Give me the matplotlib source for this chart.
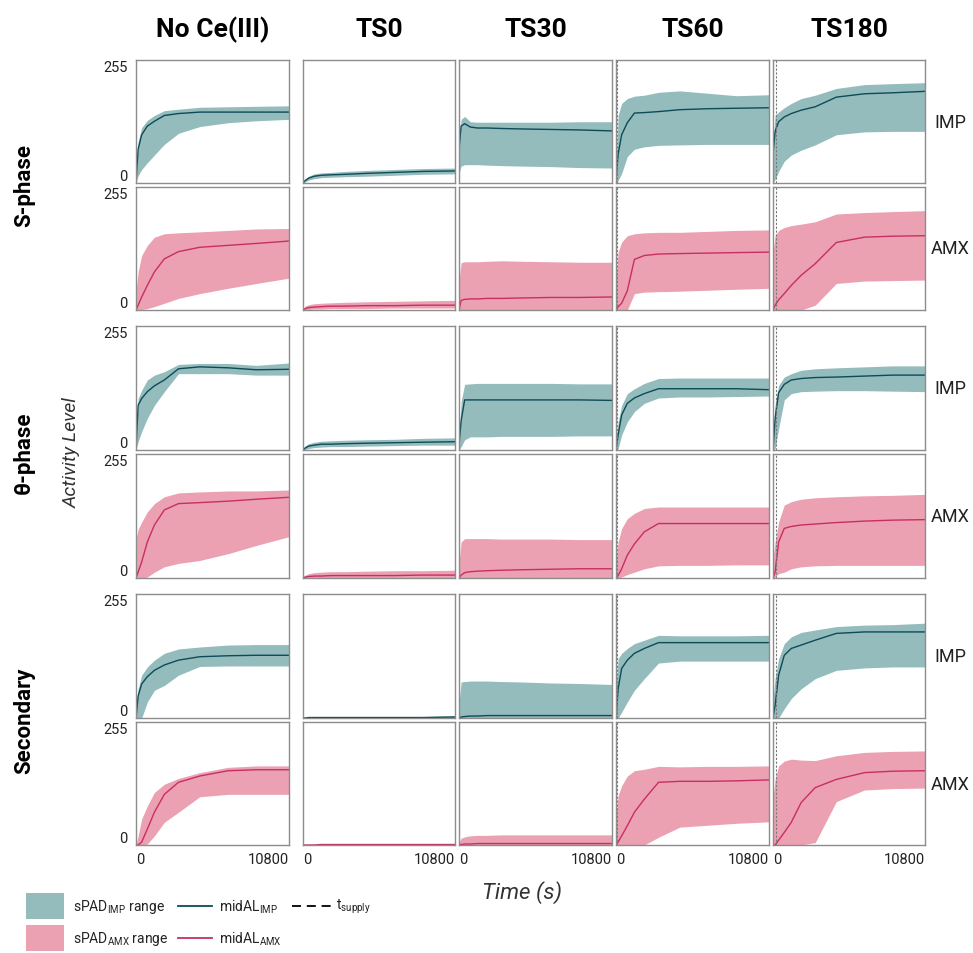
import matplotlib.pyplot as plt
from matplotlib.patches import Rectangle
from matplotlib.lines import Line2D

plt.rcParams['font.family'] = ['Roboto', 'DejaVu Sans']

# column / row names
conditions = ["No Ce(III)", "TS0", "TS30", "TS60", "TS180"]
t_supply = [None, 0, 30, 60, 180]
phases = ["S-phase", "θ-phase", "Secondary"]

# time points (s) shared by every panel
T = [0, 150, 400, 800, 1300, 2000, 3000, 4500, 6500, 8500, 10800]

# ---- S-phase, IMP  (one list per condition)
s_imp_mid = [[0, 70, 100, 118, 128, 140, 144, 147, 147, 147, 147],
             [0, 5, 10, 14, 16, 17, 18, 20, 22, 24, 25],
             [70, 118, 123, 116, 114, 114, 113, 112, 111, 110, 108],
             [5, 60, 100, 125, 145, 146, 148, 152, 154, 155, 156],
             [60, 107, 127, 137, 144, 151, 158, 178, 185, 187, 190]]
s_imp_hi = [[0, 85, 115, 130, 140, 150, 153, 157, 158, 159, 160],
            [0, 8, 14, 19, 21, 22, 24, 26, 28, 30, 31],
            [90, 132, 138, 127, 126, 126, 126, 126, 126, 127, 127],
            [10, 140, 165, 175, 180, 182, 188, 191, 186, 181, 183],
            [80, 141, 147, 156, 165, 175, 182, 196, 204, 206, 208]]
s_imp_lo = [[0, 15, 28, 42, 58, 80, 103, 117, 125, 129, 132],
            [0, 2, 6, 9, 11, 12, 13, 14, 16, 18, 19],
            [20, 35, 38, 38, 38, 37, 36, 35, 34, 32, 31],
            [0, 5, 20, 55, 70, 75, 78, 79, 80, 80, 80],
            [0, 7, 24, 45, 58, 68, 79, 100, 106, 107, 107]]

# ---- S-phase, AMX
s_amx_mid = [[0, 10, 27, 51, 79, 106, 121, 130, 134, 138, 143],
             [0, 3, 5, 6, 7, 8, 8, 9, 9, 10, 10],
             [0, 20, 22, 23, 23, 24, 24, 25, 26, 26, 27],
             [0, 7, 14, 40, 105, 113, 116, 117, 118, 119, 120],
             [0, 10, 21, 34, 51, 72, 96, 140, 151, 153, 154]]
s_amx_hi = [[40, 79, 113, 134, 151, 158, 160, 162, 165, 168, 169],
            [0, 8, 11, 13, 14, 15, 16, 17, 18, 19, 20],
            [60, 98, 100, 100, 100, 101, 102, 101, 100, 99, 99],
            [60, 120, 141, 154, 158, 160, 161, 161, 163, 165, 166],
            [120, 154, 165, 171, 175, 178, 183, 199, 202, 204, 206]]
s_amx_lo = [[0, 0, 1, 3, 7, 14, 24, 34, 45, 55, 66],
            [0, 0, 1, 2, 2, 3, 3, 3, 4, 4, 4],
            [0, 0, 0, 0, 0, 0, 0, 0, 0, 0, 0],
            [0, 0, 0, 0, 34, 37, 38, 39, 41, 43, 45],
            [0, 0, 0, 0, 0, 0, 10, 55, 60, 61, 62]]

# ---- theta-phase, IMP
th_imp_mid = [[0, 92, 106, 120, 132, 144, 167, 171, 169, 165, 166],
              [0, 4, 8, 10, 12, 12, 13, 14, 15, 16, 17],
              [10, 60, 103, 103, 103, 103, 103, 103, 103, 103, 102],
              [0, 31, 72, 96, 107, 116, 126, 126, 126, 126, 124],
              [0, 65, 118, 135, 144, 147, 149, 150, 152, 154, 154]]
th_imp_hi = [[0, 106, 123, 144, 154, 161, 176, 178, 178, 174, 179],
             [0, 8, 13, 16, 18, 19, 20, 21, 22, 24, 25],
             [20, 100, 135, 136, 137, 137, 137, 137, 137, 136, 136],
             [0, 58, 92, 116, 126, 137, 147, 148, 148, 148, 148],
             [20, 92, 133, 150, 157, 164, 167, 169, 171, 173, 173]]
th_imp_lo = [[0, 17, 38, 65, 92, 120, 157, 157, 157, 154, 154],
             [0, 1, 3, 5, 6, 7, 7, 8, 9, 10, 10],
             [0, 7, 21, 27, 27, 27, 28, 28, 28, 29, 29],
             [0, 3, 31, 58, 79, 96, 107, 109, 109, 110, 111],
             [0, 3, 44, 103, 116, 120, 121, 122, 122, 121, 120]]

# ---- theta-phase, AMX
th_amx_mid = [[0, 12, 33, 74, 109, 140, 153, 155, 158, 162, 166],
              [0, 2, 3, 4, 4, 5, 5, 5, 5, 6, 6],
              [0, 6, 11, 13, 14, 15, 16, 17, 18, 19, 19],
              [0, 5, 19, 47, 70, 95, 112, 112, 112, 112, 112],
              [0, 12, 74, 102, 106, 109, 111, 114, 117, 119, 120]]
th_amx_hi = [[80, 100, 115, 136, 153, 167, 175, 177, 179, 179, 181],
             [0, 6, 9, 11, 12, 13, 13, 14, 15, 15, 16],
             [30, 74, 81, 81, 81, 81, 80, 80, 80, 79, 79],
             [30, 74, 102, 122, 133, 143, 146, 146, 146, 146, 146],
             [40, 74, 115, 150, 157, 162, 165, 167, 169, 170, 172]]
th_amx_lo = [[0, 0, 0, 2, 12, 23, 30, 36, 50, 67, 85],
             [0, 0, 0, 0, 0, 0, 0, 0, 0, 0, 0],
             [0, 0, 0, 0, 0, 0, 0, 0, 0, 0, 0],
             [0, 0, 2, 7, 12, 19, 25, 26, 26, 27, 27],
             [0, 2, 9, 12, 19, 23, 25, 26, 26, 26, 26]]

# ---- secondary, IMP
sec_imp_mid = [[0, 45, 70, 85, 98, 109, 119, 126, 128, 129, 129],
               [0, 0, 1, 1, 1, 1, 1, 1, 1, 1, 2],
               [0, 2, 3, 4, 4, 5, 5, 5, 5, 5, 5],
               [0, 60, 102, 119, 133, 143, 155, 155, 155, 155, 155],
               [0, 26, 88, 129, 143, 150, 160, 174, 177, 177, 177]]
sec_imp_hi = [[20, 60, 88, 105, 119, 133, 142, 146, 150, 151, 151],
              [0, 1, 2, 2, 2, 2, 2, 3, 3, 3, 5],
              [30, 74, 75, 76, 76, 76, 75, 74, 72, 71, 69],
              [60, 122, 133, 143, 153, 160, 170, 169, 169, 169, 170],
              [40, 81, 122, 153, 167, 176, 181, 188, 191, 192, 195]]
sec_imp_lo = [[0, 0, 0, 33, 57, 67, 88, 106, 107, 107, 107],
              [0, 0, 0, 0, 0, 0, 0, 0, 0, 0, 0],
              [0, 0, 0, 0, 0, 0, 0, 0, 0, 0, 0],
              [0, 0, 12, 33, 57, 81, 113, 117, 117, 117, 117],
              [0, 0, 0, 19, 40, 60, 81, 98, 103, 105, 105]]

# ---- secondary, AMX
sec_amx_mid = [[0, 0, 6, 33, 68, 105, 130, 143, 154, 156, 156],
               [0, 0, 0, 0, 1, 1, 1, 1, 1, 1, 1],
               [0, 1, 2, 2, 3, 3, 3, 3, 3, 3, 3],
               [0, 6, 19, 40, 68, 95, 130, 132, 132, 133, 135],
               [0, 0, 10, 26, 47, 88, 119, 136, 150, 153, 154]]
sec_amx_hi = [[0, 19, 54, 81, 109, 126, 138, 150, 161, 164, 164],
              [0, 1, 1, 1, 1, 2, 2, 2, 2, 2, 3],
              [5, 14, 17, 19, 20, 20, 21, 21, 21, 21, 21],
              [60, 102, 123, 143, 154, 157, 163, 162, 163, 163, 164],
              [100, 136, 164, 174, 178, 176, 175, 185, 192, 194, 195]]
sec_amx_lo = [[0, 0, 0, 2, 19, 47, 68, 100, 105, 105, 105],
              [0, 0, 0, 0, 0, 0, 0, 0, 0, 0, 0],
              [0, 0, 0, 0, 0, 0, 0, 0, 0, 0, 0],
              [0, 0, 0, 0, 0, 0, 16, 37, 41, 45, 48],
              [0, 0, 0, 0, 0, 0, 5, 90, 114, 117, 118]]

rows = [(s_imp_lo, s_imp_mid, s_imp_hi, "IMP"),
        (s_amx_lo, s_amx_mid, s_amx_hi, "AMX"),
        (th_imp_lo, th_imp_mid, th_imp_hi, "IMP"),
        (th_amx_lo, th_amx_mid, th_amx_hi, "AMX"),
        (sec_imp_lo, sec_imp_mid, sec_imp_hi, "IMP"),
        (sec_amx_lo, sec_amx_mid, sec_amx_hi, "AMX")]

fill_col = {"IMP": "#94bcbd", "AMX": "#eba1b2"}
line_col = {"IMP": "#0d4b58", "AMX": "#c92e62"}
frame_col = "#8c8c8c"
txt_col = "#222222"

W, H = 973, 954
fig = plt.figure(figsize=(W / 100, H / 100), dpi=100)

# panel edges in pixels
col_px = [(136, 289), (303, 455), (459, 612), (616, 769), (773, 925)]
row_px = [(61, 184), (188, 311), (327, 451), (455, 579), (595, 719), (723, 846)]

for r, (yt, yb) in enumerate(row_px):
    lo_r, mid_r, hi_r, drug = rows[r]
    for c, (xl, xr) in enumerate(col_px):
        ax = fig.add_axes([xl / W, 1 - yb / H, (xr - xl) / W, (yb - yt) / H])
        ax.fill_between(T, lo_r[c], hi_r[c], color=fill_col[drug], lw=0)
        ax.plot(T, mid_r[c], color=line_col[drug], lw=1)
        if t_supply[c]:
            ax.axvline(t_supply[c], color="#777777", lw=0.8, ls=(0, (2, 1.5)))
        ax.set_xlim(0, 10800)
        ax.set_ylim(0, 255)
        for s in ax.spines.values():
            s.set_color(frame_col)
            s.set_linewidth(1)
        ax.tick_params(length=0, labelsize=10.5, colors=txt_col)
        if c == 0:
            ax.set_yticks([0, 255])
            yl = ax.set_yticklabels(["0", "255"])
            yl[0].set_va("bottom")
            yl[1].set_va("top")
            ax.tick_params(axis="y", pad=6)
        else:
            ax.set_yticks([])
        if r == len(row_px) - 1:
            ax.set_xticks([0, 10800])
            xlab = ax.set_xticklabels(["0", "10800"])
            xlab[0].set_ha("left")
            xlab[1].set_ha("right")
            ax.tick_params(axis="x", pad=5)
        else:
            ax.set_xticks([])
        if c == len(col_px) - 1:
            ax.text(1.165, 0.5, drug, transform=ax.transAxes, ha="center",
                    va="center", fontsize=13, color=txt_col)

for c, name in enumerate(conditions):
    xc = (col_px[c][0] + col_px[c][1]) / 2
    fig.text(xc / W, 1 - 30 / H, name, ha="center", va="center",
             fontsize=19, fontweight="bold")

for i, ph in enumerate(phases):
    yc = (row_px[2 * i][0] + row_px[2 * i + 1][1]) / 2
    fig.text(24 / W, 1 - yc / H, ph, rotation=90, ha="center", va="center",
             fontsize=16, fontweight="bold")

fig.text(72 / W, 1 - 453 / H, "Activity Level", rotation=90, ha="center",
         va="center", fontsize=14, style="italic", color="#333333")
fig.text(522 / W, 1 - 893 / H, "Time (s)", ha="center", va="center",
         fontsize=16, style="italic", color="#333333")

# legend, drawn by hand in pixel positions
def fx(px):
    return px / W

def fy(py):
    return 1 - py / H

for yc, drug, name in [(907, "IMP", "IMP"), (939, "AMX", "AMX")]:
    fig.add_artist(Rectangle((fx(26), fy(yc + 13)), 38 / W, 26 / H,
                             transform=fig.transFigure, color=fill_col[drug], lw=0))
    fig.text(fx(73), fy(yc), r"sPAD$_{\mathregular{%s}}$ range" % name,
             ha="left", va="center", fontsize=10, color=txt_col)
    fig.add_artist(Line2D([fx(178), fx(212)], [fy(yc), fy(yc)],
                          transform=fig.transFigure, color=line_col[drug], lw=1.3))
    fig.text(fx(219), fy(yc), r"midAL$_{\mathregular{%s}}$" % name,
             ha="left", va="center", fontsize=10, color=txt_col)
fig.add_artist(Line2D([fx(292), fx(331)], [fy(907), fy(907)],
                      transform=fig.transFigure, color="black", lw=1.3,
                      ls=(0, (5, 3.2))))
fig.text(fx(336), fy(907), r"t$_{\mathregular{supply}}$", ha="left",
         va="center", fontsize=10, color=txt_col)

fig.savefig("out.png", dpi=100, facecolor="white")
